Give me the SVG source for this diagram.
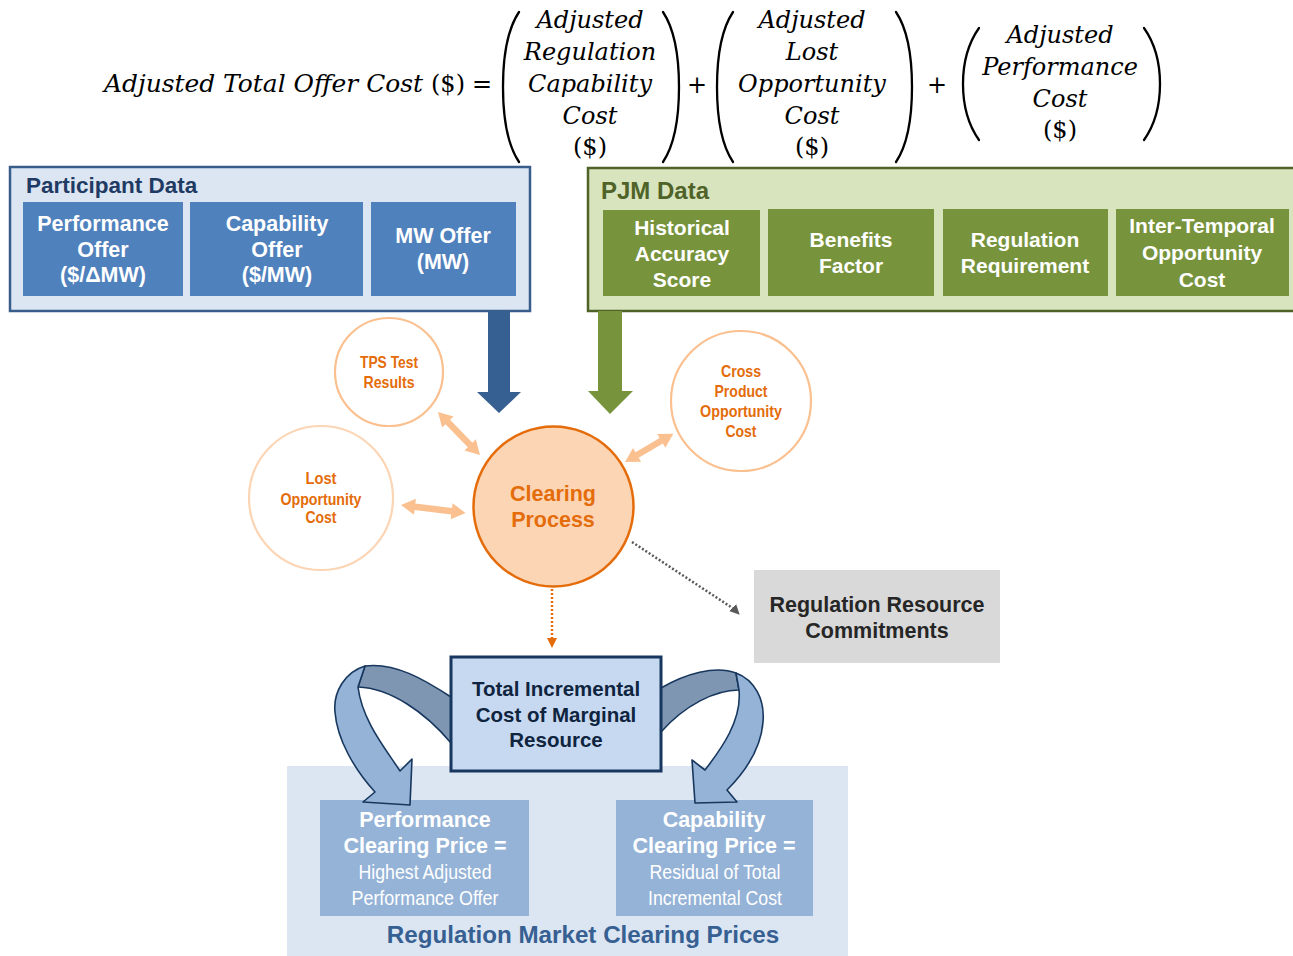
<svg xmlns="http://www.w3.org/2000/svg" width="1293" height="956" viewBox="0 0 1293 956">
<defs>
<style>
.eq{font-family:"DejaVu Serif","Liberation Serif",serif;font-size:24px;fill:#000}
.it{font-style:italic}
.par{fill:none;stroke:#000;stroke-width:2.3;stroke-linecap:round}
.s{font-family:"Liberation Sans",Arial,sans-serif;font-weight:bold}
.r{font-family:"Liberation Sans",Arial,sans-serif;font-weight:normal}
.c{text-anchor:middle}
.w{fill:#fff}
.or{fill:#e46c0a}
.sm{font-size:16.5px}
.bx{font-size:21.5px}
.pj{font-size:21px}
.pbox{fill:#4f81bd}
.gbox{fill:#77933c}
.ring{fill:#fff;stroke:#fac090;stroke-width:2.2}
.dbl{fill:#fac090}
.cfront{fill:#95b3d7;stroke:#17375e;stroke-width:1.6;stroke-linejoin:round}
.cback{fill:#7f96b3;stroke:#17375e;stroke-width:1.6;stroke-linejoin:round}
</style>
<marker id="ag" markerUnits="userSpaceOnUse" markerWidth="10" markerHeight="10" viewBox="0 0 10 10" refX="2" refY="5" orient="auto"><path d="M0,0 L10,5 L0,10 Z" fill="#595959"/></marker>
<marker id="ao" markerUnits="userSpaceOnUse" markerWidth="10" markerHeight="10" viewBox="0 0 10 10" refX="2" refY="5" orient="auto"><path d="M0,0 L10,5 L0,10 Z" fill="#e46c0a"/></marker>
</defs>
<rect width="1293" height="956" fill="#fff"/>

<g id="equation">
<text class="eq it" x="104" y="92" textLength="319" lengthAdjust="spacingAndGlyphs">Adjusted Total Offer Cost</text>
<text class="eq" x="431" y="92">($)</text>
<text class="eq" x="472" y="92">=</text>
<path class="par" d="M519,12 C507,30 503,55 503,87 C503,119 507,144 519,162"/>
<path class="par" d="M663,12 C675,30 679,55 679,87 C679,119 675,144 663,162"/>
<text class="eq it c" x="590" y="28">Adjusted</text>
<text class="eq it c" x="590" y="60">Regulation</text>
<text class="eq it c" x="590" y="92">Capability</text>
<text class="eq it c" x="590" y="124">Cost</text>
<text class="eq c" x="590" y="155">($)</text>
<text class="eq c" x="697" y="93">+</text>
<path class="par" d="M733,12 C721,30 717,55 717,87 C717,119 721,144 733,162"/>
<path class="par" d="M896,12 C908,30 912,55 912,87 C912,119 908,144 896,162"/>
<text class="eq it c" x="812" y="28">Adjusted</text>
<text class="eq it c" x="812" y="60">Lost</text>
<text class="eq it c" x="812" y="92">Opportunity</text>
<text class="eq it c" x="812" y="124">Cost</text>
<text class="eq c" x="812" y="155">($)</text>
<text class="eq c" x="937" y="93">+</text>
<path class="par" d="M979,28 C967,45 963,64 963,84 C963,104 967,123 979,140"/>
<path class="par" d="M1144,28 C1156,45 1160,64 1160,84 C1160,104 1156,123 1144,140"/>
<text class="eq it c" x="1060" y="43">Adjusted</text>
<text class="eq it c" x="1060" y="75">Performance</text>
<text class="eq it c" x="1060" y="107">Cost</text>
<text class="eq c" x="1060" y="138">($)</text>
</g>

<g id="participant-data">
<rect x="10" y="167" width="520" height="144" fill="#dce6f2" stroke="#385d8a" stroke-width="2.5"/>
<text class="s" x="26" y="193" font-size="22.5" fill="#1f3b63">Participant Data</text>
</g>
<g id="performance-offer">
<rect class="pbox" x="23" y="202" width="160" height="94"/>
<text class="s bx w c" x="103" y="231">Performance</text>
<text class="s bx w c" x="103" y="257">Offer</text>
<text class="s bx w c" x="103" y="282">($/ΔMW)</text>
</g>
<g id="capability-offer">
<rect class="pbox" x="190" y="202" width="173" height="94"/>
<text class="s bx w c" x="277" y="231">Capability</text>
<text class="s bx w c" x="277" y="257">Offer</text>
<text class="s bx w c" x="277" y="282">($/MW)</text>
</g>
<g id="mw-offer">
<rect class="pbox" x="371" y="202" width="145" height="94"/>
<text class="s bx w c" x="443" y="243">MW Offer</text>
<text class="s bx w c" x="443" y="269">(MW)</text>
</g>

<g id="pjm-data">
<rect x="588" y="168" width="720" height="143" fill="#d7e4bd" stroke="#4f6228" stroke-width="2.5"/>
<text class="s" x="601" y="199" font-size="23.5" fill="#4f6228" textLength="108" lengthAdjust="spacingAndGlyphs">PJM Data</text>
</g>
<g id="historical-accuracy">
<rect class="gbox" x="603" y="210" width="157" height="86"/>
<text class="s pj w c" x="682" y="235">Historical</text>
<text class="s pj w c" x="682" y="261">Accuracy</text>
<text class="s pj w c" x="682" y="287">Score</text>
</g>
<g id="benefits-factor">
<rect class="gbox" x="768" y="209" width="166" height="87"/>
<text class="s pj w c" x="851" y="247">Benefits</text>
<text class="s pj w c" x="851" y="273">Factor</text>
</g>
<g id="regulation-requirement">
<rect class="gbox" x="943" y="209" width="165" height="87"/>
<text class="s pj w c" x="1025" y="247">Regulation</text>
<text class="s pj w c" x="1025" y="273">Requirement</text>
</g>
<g id="inter-temporal">
<rect class="gbox" x="1116" y="209" width="173" height="87"/>
<text class="s pj w c" x="1202" y="233">Inter-Temporal</text>
<text class="s pj w c" x="1202" y="260">Opportunity</text>
<text class="s pj w c" x="1202" y="287">Cost</text>
</g>

<g id="tps-test-results">
<circle class="ring" cx="389" cy="372" r="54"/>
<text class="s sm or c" x="389" y="368" textLength="58" lengthAdjust="spacingAndGlyphs">TPS Test</text>
<text class="s sm or c" x="389" y="388" textLength="51" lengthAdjust="spacingAndGlyphs">Results</text>
</g>
<g id="lost-opportunity-cost">
<circle cx="321" cy="498" r="72" fill="#fff" stroke="#fcd5b5" stroke-width="2.2"/>
<text class="s sm or c" x="321" y="484" textLength="31" lengthAdjust="spacingAndGlyphs">Lost</text>
<text class="s sm or c" x="321" y="505" textLength="81" lengthAdjust="spacingAndGlyphs">Opportunity</text>
<text class="s sm or c" x="321" y="523" textLength="31" lengthAdjust="spacingAndGlyphs">Cost</text>
</g>
<g id="cross-product-opportunity-cost">
<circle class="ring" cx="741" cy="401" r="70"/>
<text class="s sm or c" x="741" y="377" textLength="40" lengthAdjust="spacingAndGlyphs">Cross</text>
<text class="s sm or c" x="741" y="397" textLength="53" lengthAdjust="spacingAndGlyphs">Product</text>
<text class="s sm or c" x="741" y="417" textLength="82" lengthAdjust="spacingAndGlyphs">Opportunity</text>
<text class="s sm or c" x="741" y="437" textLength="31" lengthAdjust="spacingAndGlyphs">Cost</text>
</g>
<g id="clearing-process">
<circle cx="553.5" cy="506.5" r="80" fill="#fcd5b5" stroke="#e46c0a" stroke-width="2.5"/>
<text class="s bx or c" x="553" y="501">Clearing</text>
<text class="s bx or c" x="553" y="527">Process</text>
</g>

<g id="regulation-resource-commitments">
<rect x="754" y="570" width="246" height="93" fill="#d9d9d9"/>
<text class="s bx c" x="877" y="612" fill="#262626">Regulation Resource</text>
<text class="s bx c" x="877" y="638" fill="#262626">Commitments</text>
</g>

<g id="regulation-market-clearing-prices">
<rect x="287" y="766" width="561" height="190" fill="#dce6f2"/>
<text class="s c" x="583" y="943" font-size="24.2" fill="#376092">Regulation Market Clearing Prices</text>
</g>
<g id="performance-clearing-price">
<rect x="320" y="800" width="209" height="116" fill="#95b3d7"/>
<text class="s bx w c" x="425" y="827">Performance</text>
<text class="s bx w c" x="425" y="853">Clearing Price =</text>
<text class="r w c" x="425" y="879" font-size="21" textLength="133" lengthAdjust="spacingAndGlyphs">Highest Adjusted</text>
<text class="r w c" x="425" y="905" font-size="21" textLength="147" lengthAdjust="spacingAndGlyphs">Performance Offer</text>
</g>
<g id="capability-clearing-price">
<rect x="616" y="800" width="197" height="116" fill="#95b3d7"/>
<text class="s bx w c" x="714" y="827">Capability</text>
<text class="s bx w c" x="714" y="853">Clearing Price =</text>
<text class="r w c" x="715" y="879" font-size="21" textLength="131" lengthAdjust="spacingAndGlyphs">Residual of Total</text>
<text class="r w c" x="715" y="905" font-size="21" textLength="134" lengthAdjust="spacingAndGlyphs">Incremental Cost</text>
</g>

<g id="connectors">
<polygon points="488,311 510,311 510,392 521,392 499,413 477,392 488,392" fill="#376092"/>
<polygon points="598,311 622,311 622,391 633,391 610,414 588,391 598,391" fill="#77933c"/>
<g transform="translate(438,412) rotate(45.7)">
<polygon class="dbl" points="0,0 14,-8 14,-3.2 46,-3.2 46,-8 60,0 46,8 46,3.2 14,3.2 14,8"/>
</g>
<g transform="translate(401,505) rotate(7)">
<polygon class="dbl" points="0,0 14,-8 14,-3.2 51,-3.2 51,-8 65,0 51,8 51,3.2 14,3.2 14,8"/>
</g>
<g transform="translate(625,462) rotate(-30.3)">
<polygon class="dbl" points="0,0 14,-8 14,-3.2 42,-3.2 42,-8 56,0 42,8 42,3.2 14,3.2 14,8"/>
</g>
<line x1="632" y1="542" x2="734" y2="609" stroke="#595959" stroke-width="2.5" stroke-dasharray="2 2"/>
<line x1="733" y1="608" x2="734" y2="609" stroke="none" marker-end="url(#ag)"/>
<line x1="552" y1="589" x2="552" y2="640" stroke="#e46c0a" stroke-width="2.5" stroke-dasharray="2 2"/>
<line x1="552" y1="639" x2="552" y2="640" stroke="none" marker-end="url(#ao)"/>
<path class="cback" d="M451,697 C425,680 395,662 365,666 L358,687 C390,688 425,712 451,743 Z"/>
<path class="cfront" d="M365,666 C345,672 333,692 335,712 C337,740 355,770 375,792 L363,802 L410,805 L412,759 L400,771 C385,748 362,720 358,687 Z"/>
<path class="cback" d="M661,688 C685,674 715,665 736,673 L739,690 C715,690 685,705 661,732 Z"/>
<path class="cfront" d="M736,673 C755,680 765,700 763,722 C761,748 745,772 727,790 L737,802 L695,803 L692,760 L705,770 C722,748 742,720 739,690 Z"/>
</g>

<g id="total-incremental-cost">
<rect x="451" y="657" width="210" height="114" fill="#c6d9f1" stroke="#17375e" stroke-width="3"/>
<text class="s c" x="556" y="696" font-size="20.5" fill="#0f243e">Total Incremental</text>
<text class="s c" x="556" y="722" font-size="20.5" fill="#0f243e">Cost of Marginal</text>
<text class="s c" x="556" y="747" font-size="20.5" fill="#0f243e">Resource</text>
</g>
</svg>
